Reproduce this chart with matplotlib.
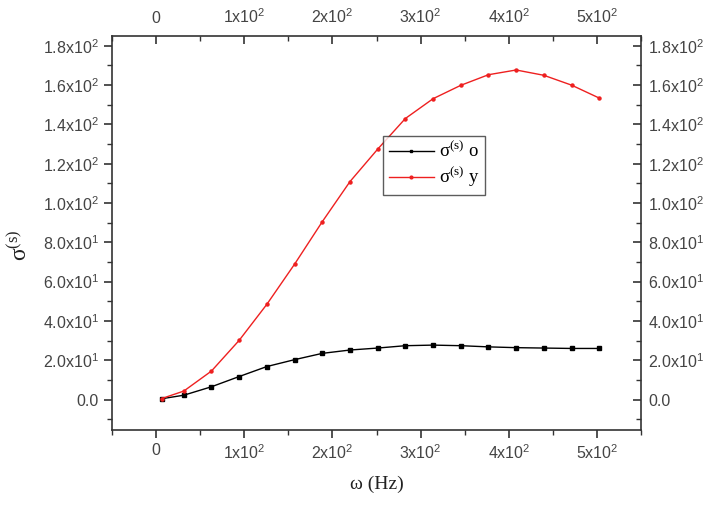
import matplotlib
matplotlib.use("Agg")
import matplotlib.pyplot as plt
from matplotlib.ticker import FixedLocator, MultipleLocator

omega = [6.28, 31.4, 62.8, 94.2, 125.7, 157.1, 188.5, 219.9, 251.3, 282.7,
         314.2, 345.6, 377.0, 408.4, 439.8, 471.2, 502.7]
sigma_o = [0.4, 2.2, 6.5, 11.7, 16.8, 20.3, 23.5, 25.2, 26.2, 27.4,
           27.7, 27.4, 26.8, 26.4, 26.2, 26.0, 26.0]
sigma_y = [0.5, 4.3, 14.5, 30.1, 48.5, 68.9, 90.5, 110.9, 127.4, 143.0,
           153.1, 159.9, 165.3, 167.7, 165.0, 160.0, 153.4]

x_ticks = [0, 100, 200, 300, 400, 500]
x_labels = ["0", r"1x10$^2$", r"2x10$^2$", r"3x10$^2$", r"4x10$^2$", r"5x10$^2$"]
y_ticks = [0, 20, 40, 60, 80, 100, 120, 140, 160, 180]
y_labels = ["0.0", r"2.0x10$^1$", r"4.0x10$^1$", r"6.0x10$^1$", r"8.0x10$^1$",
            r"1.0x10$^2$", r"1.2x10$^2$", r"1.4x10$^2$", r"1.6x10$^2$", r"1.8x10$^2$"]

plt.rcParams['font.family'] = ['Liberation Sans', 'DejaVu Sans']
plt.rcParams['mathtext.fontset'] = 'custom'
plt.rcParams['mathtext.rm'] = 'Liberation Sans'

fig = plt.figure(figsize=(7.14, 5.05), dpi=100)
ax = fig.add_axes([112/714, 1-430/505, (641-112)/714, (430-36)/505])

ax.plot(omega, sigma_o, color='black', lw=1.0, marker='s', ms=2.2,
        label="σ$\\mathregular{^{(s)}}$ o")
ax.plot(omega, sigma_y, color='#ee2020', lw=1.0, marker='o', ms=2.2,
        label="σ$\\mathregular{^{(s)}}$ y")

ax.set_xlim(-50, 550)
ax.set_ylim(-15.5, 185)

tc = '#444444'
for s in ax.spines.values():
    s.set_color('#333333')
    s.set_linewidth(1.2)

ax.xaxis.set_major_locator(FixedLocator(x_ticks))
ax.set_xticklabels(x_labels)
ax.xaxis.set_minor_locator(MultipleLocator(50))
ax.yaxis.set_major_locator(FixedLocator(y_ticks))
ax.set_yticklabels(y_labels)
ax.yaxis.set_minor_locator(MultipleLocator(10))
ax.tick_params(axis='both', which='major', direction='out', length=6, width=1.2,
               color='#333333', labelcolor=tc, labelsize=11.5)
ax.tick_params(axis='both', which='minor', direction='out', length=3.5, width=1.0, color='#333333')

# top axis
axt = ax.secondary_xaxis('top')
axt.xaxis.set_major_locator(FixedLocator(x_ticks))
axt.set_xticklabels(x_labels)
axt.xaxis.set_minor_locator(MultipleLocator(50))
axt.tick_params(which='major', direction='in', length=6, width=1.2, color='#333333',
                labelcolor=tc, labelsize=11.5, pad=7)
axt.tick_params(which='minor', direction='in', length=3.5, width=1.0, color='#333333')
axt.spines['top'].set_visible(False)

# right axis
axr = ax.secondary_yaxis('right')
axr.yaxis.set_major_locator(FixedLocator(y_ticks))
axr.set_yticklabels(y_labels)
axr.yaxis.set_minor_locator(MultipleLocator(10))
axr.tick_params(which='major', direction='in', length=6, width=1.2, color='#333333',
                labelcolor=tc, labelsize=11.5, pad=5)
axr.tick_params(which='minor', direction='in', length=3.5, width=1.0, color='#333333')
axr.spines['right'].set_visible(False)

ax.set_xlabel("ω (Hz)", fontsize=14, family='Liberation Serif', color='#222222', labelpad=10)
fig.text(20/714, 1-245/505, "σ$\\mathregular{^{(s)}}$", rotation=90, fontsize=17,
         family='Liberation Serif', ha='center', va='center', color='#222222')

leg = ax.legend(loc='upper left', bbox_to_anchor=((383-112)/(641-112), 1-(135.5-36)/(430-36)),
                borderaxespad=0, frameon=True, fancybox=False, edgecolor='#333333',
                handlelength=2.4, borderpad=0.3, labelspacing=0.2, handletextpad=0.3,
                markerscale=0.9,
                prop={'family': 'Liberation Serif', 'size': 13.5})
leg.get_frame().set_linewidth(1.0)

fig.savefig('out.png', dpi=100)
